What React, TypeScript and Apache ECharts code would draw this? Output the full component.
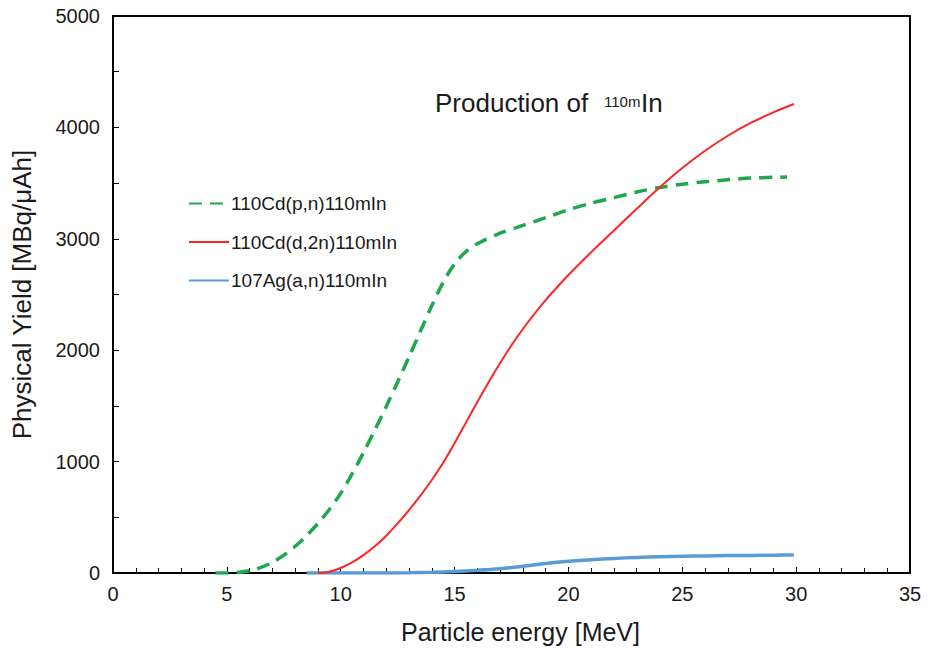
import React, { useEffect, useRef } from "react";
import * as echarts from "echarts";

const pnEnergy = [4.5, 5, 5.5, 6, 6.5, 7, 7.5, 8, 8.5, 9, 9.5, 10, 10.5, 11, 11.5, 12, 12.5, 13, 13.5, 14, 14.5, 15, 15.5, 16, 17, 18, 19, 20, 21, 22, 23, 24, 25, 26, 27, 28, 29, 29.6];
const pnYield = [0, 0, 5, 20, 50, 95, 160, 240, 335, 445, 570, 715, 890, 1080, 1285, 1495, 1715, 1940, 2170, 2400, 2610, 2775, 2885, 2955, 3050, 3120, 3190, 3260, 3320, 3370, 3420, 3460, 3490, 3512, 3530, 3545, 3552, 3555];

const d2nEnergy = [9, 9.5, 10, 10.5, 11, 11.5, 12, 12.5, 13, 13.5, 14, 14.5, 15, 15.5, 16, 16.5, 17, 17.5, 18, 18.5, 19, 19.5, 20, 21, 22, 23, 24, 25, 26, 27, 28, 29, 29.9];
const d2nYield = [0, 12, 45, 95, 160, 240, 335, 445, 565, 695, 835, 990, 1165, 1350, 1535, 1715, 1885, 2045, 2190, 2325, 2450, 2565, 2675, 2880, 3075, 3270, 3460, 3635, 3790, 3925, 4040, 4135, 4210];

const anEnergy = [8.5, 10, 12, 13, 14, 15, 16, 17, 18, 19, 20, 21, 22, 23, 24, 25, 26, 27, 28, 29, 29.9];
const anYield = [0, 0, 0, 2, 6, 14, 24, 38, 60, 85, 105, 120, 131, 140, 146, 150, 153, 156, 158, 160, 162];

const seriesNames = ["110Cd(p,n)110mIn", "110Cd(d,2n)110mIn", "107Ag(a,n)110mIn"];
const xTitle = "Particle energy [MeV]";
const yTitle = "Physical Yield [MBq/\u03bcAh]";
const titleMain = "Production of";
const titleSup = "110m";
const titleEnd = "In";

const pairs = (xs: number[], ys: number[]) => xs.map((x, i) => [x, ys[i]]);

export default function App() {
  const ref = useRef<HTMLDivElement>(null);
  useEffect(() => {
    if (!ref.current) return;
    const chart = echarts.init(ref.current, null, { renderer: "svg" });
    const font = "Liberation Sans, Arial, sans-serif";
    const textColor = "#1a1a1a";
    chart.setOption({
      animation: false,
      textStyle: { fontFamily: font },
      grid: { left: 113, right: 26, top: 16, bottom: 78, show: true, borderColor: "#000", borderWidth: 2, backgroundColor: "transparent" },
      xAxis: {
        type: "value",
        min: 0,
        max: 35,
        interval: 5,
        axisLine: { lineStyle: { color: "#000", width: 2 } },
        axisTick: { inside: true, length: 6, lineStyle: { color: "#000", width: 1 } },
        minorTick: { show: true, splitNumber: 5, length: 5, lineStyle: { color: "#000", width: 1 } },
        splitLine: { show: false },
        axisLabel: { fontSize: 20, color: textColor, margin: 11, fontFamily: font },
        name: xTitle,
        nameLocation: "middle",
        nameGap: 46,
        nameTextStyle: { fontSize: 25, color: textColor, fontFamily: font, padding: [0, 0, 0, 18] },
      },
      yAxis: {
        type: "value",
        min: 0,
        max: 5000,
        interval: 1000,
        axisLine: { lineStyle: { color: "#000", width: 2 } },
        axisTick: { inside: true, length: 6, lineStyle: { color: "#000", width: 1 } },
        minorTick: { show: true, splitNumber: 2, length: 6, lineStyle: { color: "#000", width: 1 } },
        splitLine: { show: false },
        axisLabel: { fontSize: 20, color: textColor, margin: 13, fontFamily: font, formatter: (v: number) => String(v) },
        name: yTitle,
        nameLocation: "middle",
        nameGap: 78,
        nameTextStyle: { fontSize: 26, color: textColor, fontFamily: font },
      },
      legend: {
        orient: "vertical",
        left: 188,
        top: 194,
        padding: 0,
        itemWidth: 40,
        itemHeight: 14,
        itemGap: 19.5,
        textStyle: { fontSize: 19, color: textColor, fontFamily: font, padding: [0, 0, 0, -3] },
        itemStyle: { opacity: 0 },
        data: seriesNames,
      },
      graphic: [
        { type: "text", x: 435, y: 102.5, style: { text: titleMain, fontSize: 26, fill: textColor, fontFamily: font, verticalAlign: "middle" } },
        { type: "text", x: 604, y: 101, style: { text: titleSup, fontSize: 15, fill: textColor, fontFamily: font, verticalAlign: "middle" } },
        { type: "text", x: 641, y: 102.5, style: { text: titleEnd, fontSize: 26, fill: textColor, fontFamily: font, verticalAlign: "middle" } },
      ],
      series: [
        {
          name: seriesNames[0],
          type: "line",
          data: pairs(pnEnergy, pnYield),
          smooth: 0.3,
          symbol: "none",
          lineStyle: { color: "#1ea84c", width: 3.5, type: [13, 8] },
          itemStyle: { color: "#1ea84c" },
          z: 3,
        },
        {
          name: seriesNames[1],
          type: "line",
          data: pairs(d2nEnergy, d2nYield),
          smooth: 0.3,
          symbol: "none",
          lineStyle: { color: "#ff2424", width: 2 },
          itemStyle: { color: "#ff2424" },
          z: 4,
        },
        {
          name: seriesNames[2],
          type: "line",
          data: pairs(anEnergy, anYield),
          smooth: 0.3,
          symbol: "none",
          lineStyle: { color: "#5b9bd5", width: 3.5 },
          itemStyle: { color: "#5b9bd5" },
          z: 2,
        },
      ],
    });
    return () => chart.dispose();
  }, []);
  return <div ref={ref} style={{ position: "absolute", left: 0, top: 0, width: 936, height: 651 }} />;
}
